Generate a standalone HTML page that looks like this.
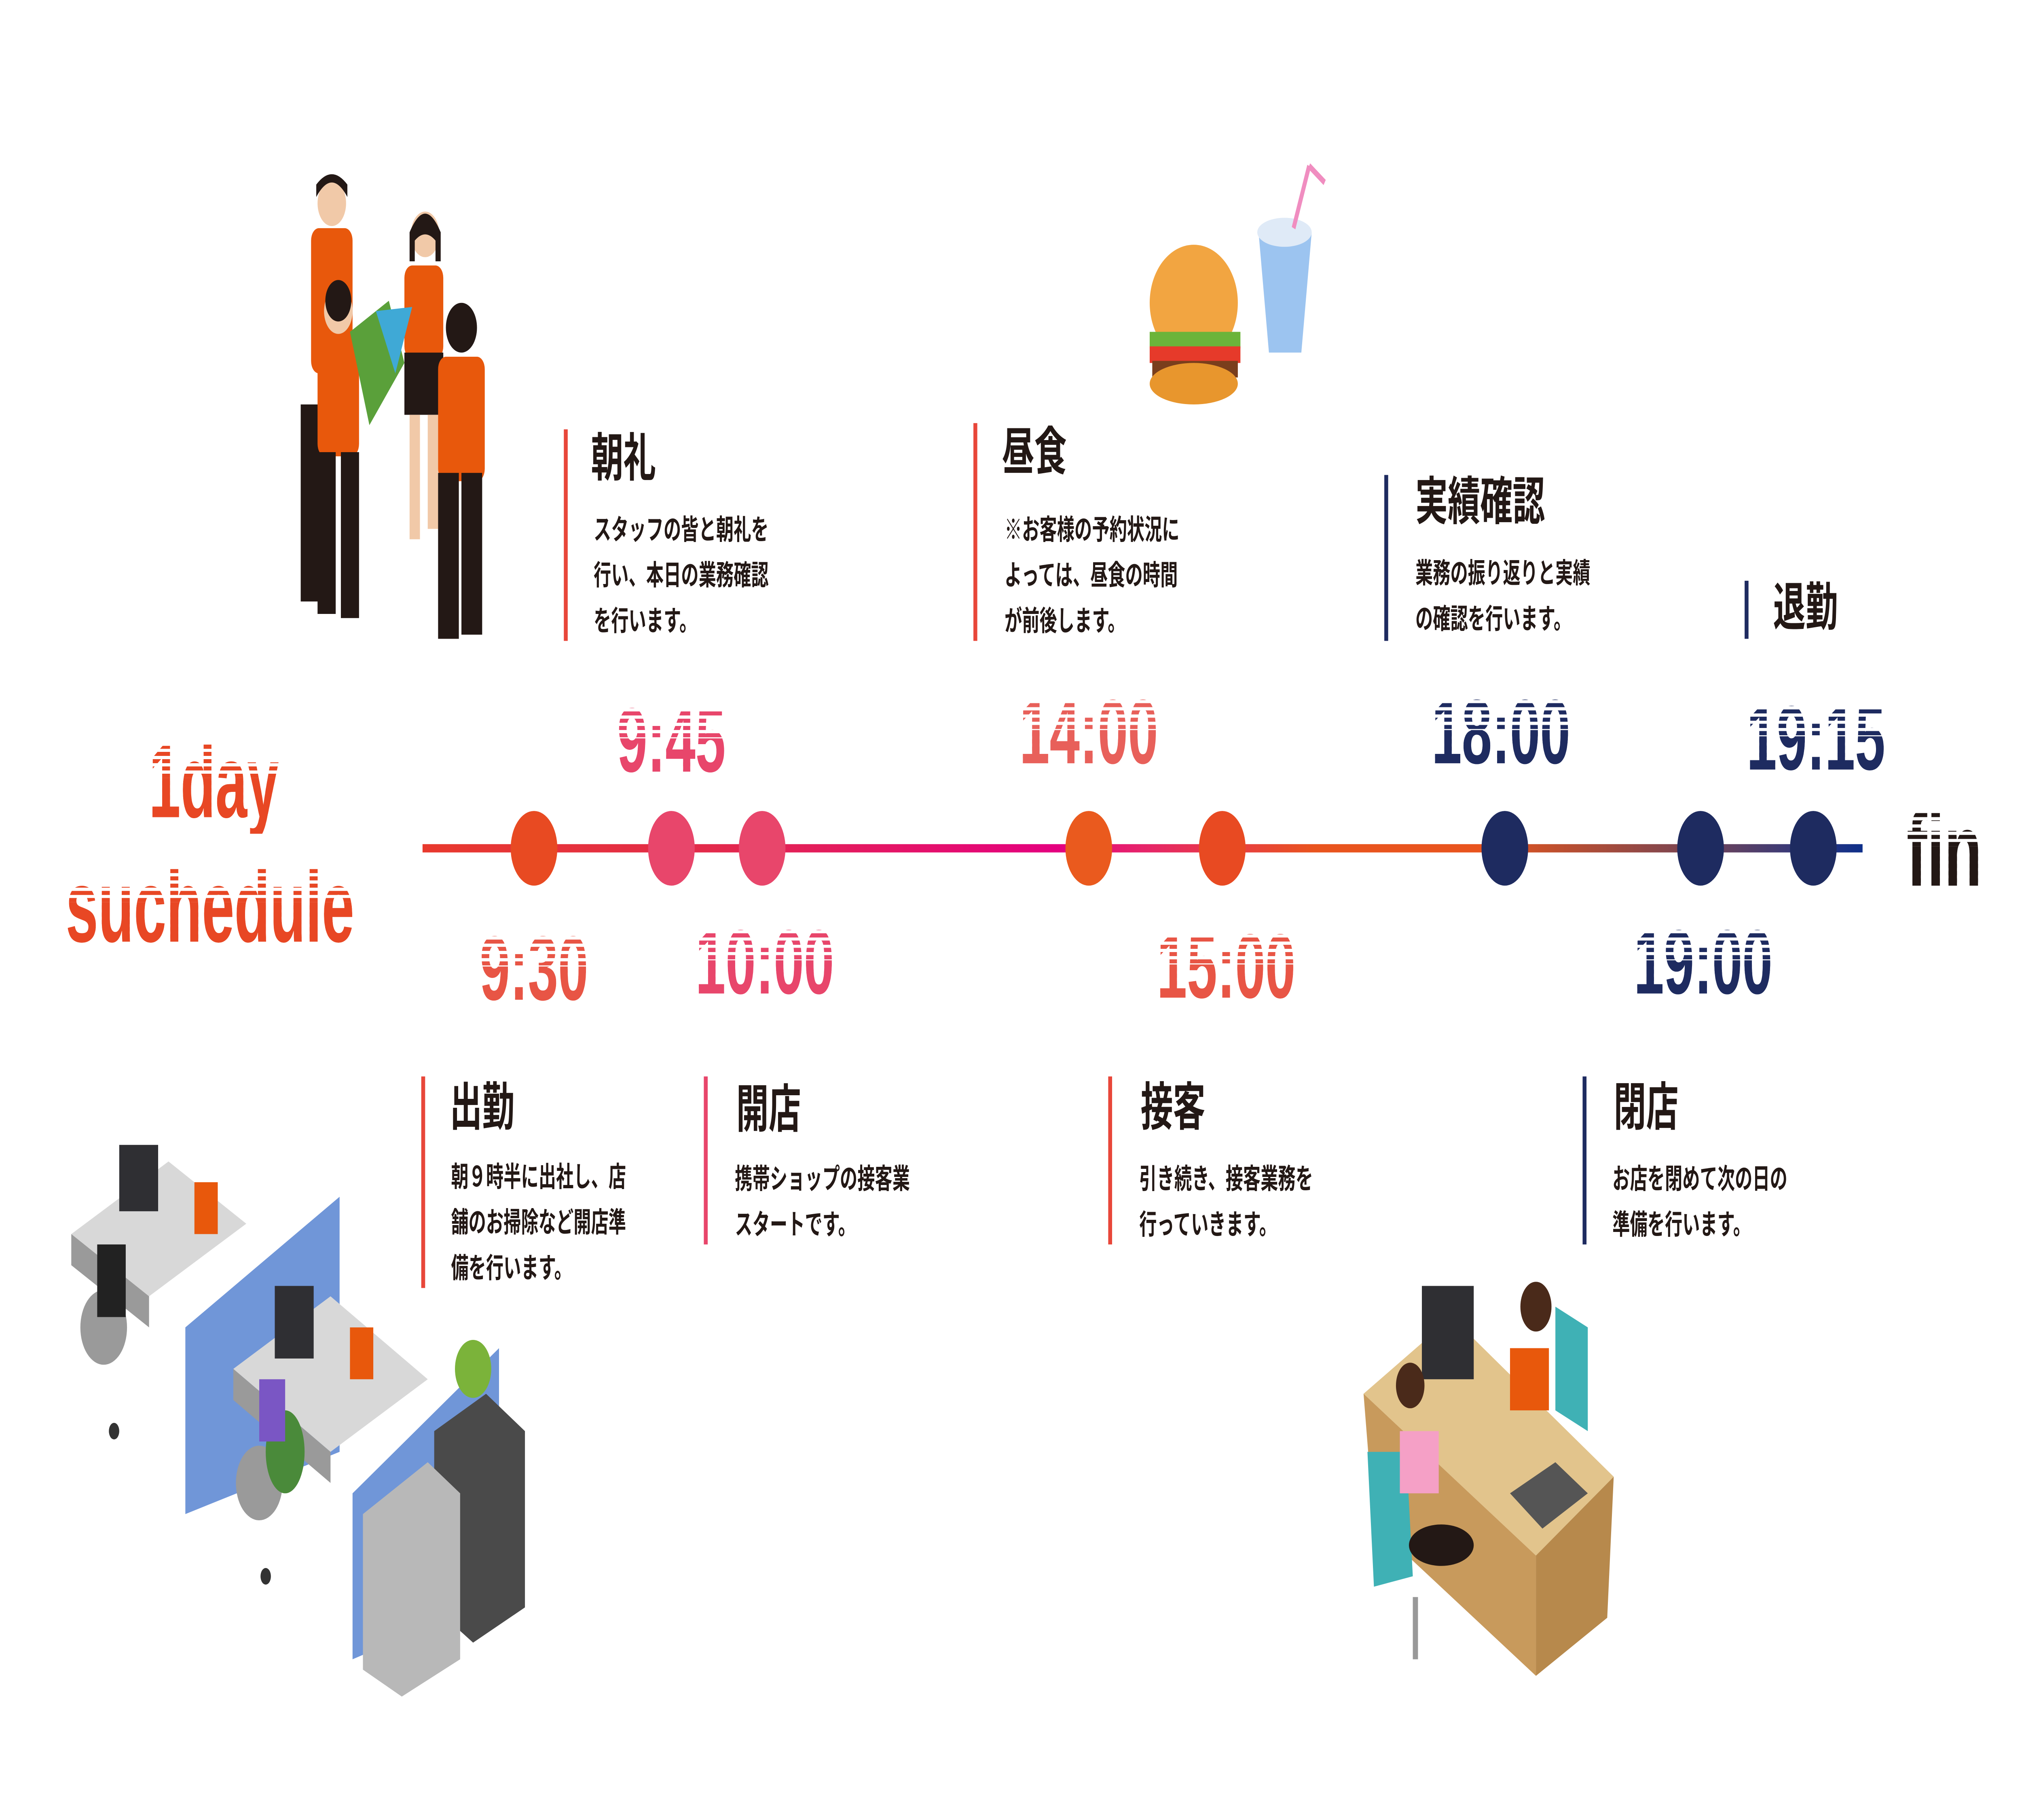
<!DOCTYPE html>
<html><head><meta charset="utf-8">
<style>
html,body{margin:0;padding:0;background:#fff;width:100%;height:100%;overflow:hidden;}
body{position:relative;}
#w{position:absolute;left:0;top:0;width:1560px;height:877.5px;transform:scale(5.128205,5.128205);transform-origin:0 0;overflow:hidden;font-family:"Liberation Sans","Noto Sans CJK JP",sans-serif;color:#231815;}
.a{position:absolute;}
.bar{position:absolute;width:3px;}
.t{position:absolute;font-size:25px;font-weight:bold;line-height:1;white-space:nowrap;transform:translateY(-50%);}
.b{position:absolute;font-size:13.5px;font-weight:bold;line-height:22px;white-space:nowrap;}
.tm{position:absolute;font-family:"Liberation Sans",sans-serif;font-weight:bold;font-size:44px;line-height:1;white-space:nowrap;transform:translate(-50%,-50%) scaleX(0.95);color:transparent;-webkit-background-clip:text;background-clip:text;}
.dot{position:absolute;width:36px;height:36px;border-radius:50%;transform:translate(-50%,-50%);}
</style></head><body><div id="w">

<div class="a" style="left:326px;top:407px;width:1111px;height:4px;background:linear-gradient(to right,#e8392d 0%,#e32a4b 20%,#e4007f 44%,#e6246a 50%,#e9541e 62%,#e9541e 74%,#c4502c 78%,#7a4552 88%,#3a3a78 95%,#0e2f8a 100%);"></div>
<div class="dot" style="left:412px;top:409px;background:#e84a22"></div>
<div class="dot" style="left:518px;top:409px;background:#e8466b"></div>
<div class="dot" style="left:588px;top:409px;background:#e8466b"></div>
<div class="dot" style="left:840px;top:409px;background:#ea5a1e"></div>
<div class="dot" style="left:943px;top:409px;background:#e84a22"></div>
<div class="dot" style="left:1161px;top:409px;background:#1e2b60"></div>
<div class="dot" style="left:1312px;top:409px;background:#1e2b60"></div>
<div class="dot" style="left:1399px;top:409px;background:#1e2b60"></div>

<div class="tm" style="left:518px;top:358px;background-image:linear-gradient(#e8466b,#e8466b),repeating-linear-gradient(#e8466b 0 2px,transparent 2px 3.5px);background-size:100% 55%,100% 100%;background-position:bottom,top;background-repeat:no-repeat,repeat;">9:45</div>
<div class="tm" style="left:840px;top:354px;background-image:linear-gradient(#e8605a,#e8605a),repeating-linear-gradient(#e8605a 0 2px,transparent 2px 3.5px);background-size:100% 55%,100% 100%;background-position:bottom,top;background-repeat:no-repeat,repeat;">14:00</div>
<div class="tm" style="left:1158px;top:354px;background-image:linear-gradient(#1e2b60,#1e2b60),repeating-linear-gradient(#1e2b60 0 2px,transparent 2px 3.5px);background-size:100% 55%,100% 100%;background-position:bottom,top;background-repeat:no-repeat,repeat;">18:00</div>
<div class="tm" style="left:1401px;top:357px;background-image:linear-gradient(#1e2b60,#1e2b60),repeating-linear-gradient(#1e2b60 0 2px,transparent 2px 3.5px);background-size:100% 55%,100% 100%;background-position:bottom,top;background-repeat:no-repeat,repeat;">19:15</div>
<div class="tm" style="left:412px;top:468px;background-image:linear-gradient(#e85545,#e85545),repeating-linear-gradient(#e85545 0 2px,transparent 2px 3.5px);background-size:100% 55%,100% 100%;background-position:bottom,top;background-repeat:no-repeat,repeat;">9:30</div>
<div class="tm" style="left:590px;top:465px;background-image:linear-gradient(#e8466b,#e8466b),repeating-linear-gradient(#e8466b 0 2px,transparent 2px 3.5px);background-size:100% 55%,100% 100%;background-position:bottom,top;background-repeat:no-repeat,repeat;">10:00</div>
<div class="tm" style="left:946px;top:467px;background-image:linear-gradient(#e85545,#e85545),repeating-linear-gradient(#e85545 0 2px,transparent 2px 3.5px);background-size:100% 55%,100% 100%;background-position:bottom,top;background-repeat:no-repeat,repeat;">15:00</div>
<div class="tm" style="left:1314px;top:465px;background-image:linear-gradient(#1e2b60,#1e2b60),repeating-linear-gradient(#1e2b60 0 2px,transparent 2px 3.5px);background-size:100% 55%,100% 100%;background-position:bottom,top;background-repeat:no-repeat,repeat;">19:00</div>
<div class="tm" style="left:165px;top:377px;font-size:50px;transform:translate(-50%,-50%) scaleX(0.88);background-image:linear-gradient(#e84724,#e84724),repeating-linear-gradient(#e84724 0 2px,transparent 2px 3.5px);background-size:100% 55%,100% 100%;background-position:bottom,top;background-repeat:no-repeat,repeat;">1day</div>
<div class="tm" style="left:162px;top:437px;font-size:50px;transform:translate(-50%,-50%) scaleX(0.9);background-image:linear-gradient(#e84724,#e84724),repeating-linear-gradient(#e84724 0 2px,transparent 2px 3.5px);background-size:100% 55%,100% 100%;background-position:bottom,top;background-repeat:no-repeat,repeat;">suchedule</div>
<div class="tm" style="left:1500px;top:410px;font-size:50px;background-image:linear-gradient(#231815,#231815),repeating-linear-gradient(#231815 0 2px,transparent 2px 3.5px);background-size:100% 55%,100% 100%;background-position:bottom,top;background-repeat:no-repeat,repeat;">fin</div>

<div class="bar" style="left:435px;top:207px;height:102px;background:#e8473a"></div>
<div class="t" style="left:456px;top:222px">朝礼</div>
<div class="b" style="left:458px;top:245px">スタッフの皆と朝礼を<br>行い、本日の業務確認<br>を行います。</div>

<div class="bar" style="left:751px;top:204px;height:105px;background:#e8473a"></div>
<div class="t" style="left:773px;top:219px">昼食</div>
<div class="b" style="left:775px;top:245px">※お客様の予約状況に<br>よっては、昼食の時間<br>が前後します。</div>

<div class="bar" style="left:1068px;top:229px;height:80px;background:#1e2b60"></div>
<div class="t" style="left:1092px;top:243px">実績確認</div>
<div class="b" style="left:1092px;top:266px">業務の振り返りと実績<br>の確認を行います。</div>

<div class="bar" style="left:1346px;top:280px;height:28px;background:#1e2b60"></div>
<div class="t" style="left:1368px;top:294px">退勤</div>

<div class="bar" style="left:325px;top:519px;height:102px;background:#e8473a"></div>
<div class="t" style="left:347px;top:535px">出勤</div>
<div class="b" style="left:348px;top:557px">朝９時半に出社し、店<br>舗のお掃除など開店準<br>備を行います。</div>

<div class="bar" style="left:543px;top:519px;height:81px;background:#e8466b"></div>
<div class="t" style="left:568px;top:536px">開店</div>
<div class="b" style="left:567px;top:558px">携帯ショップの接客業<br>スタートです。</div>

<div class="bar" style="left:855px;top:519px;height:81px;background:#e8473a"></div>
<div class="t" style="left:880px;top:535px">接客</div>
<div class="b" style="left:879px;top:558px">引き続き、接客業務を<br>行っていきます。</div>

<div class="bar" style="left:1221px;top:519px;height:81px;background:#1e2b60"></div>
<div class="t" style="left:1245px;top:535px">閉店</div>
<div class="b" style="left:1244px;top:558px">お店を閉めて次の日の<br>準備を行います。</div>

<svg class="a" style="left:0;top:0" width="1560" height="877" viewBox="0 0 1560 877">
 <g>
  <rect x="232" y="195" width="25" height="95" fill="#231815"/>
  <rect x="240" y="110" width="32" height="70" rx="6" fill="#e8580c"/>
  <circle cx="256" cy="98" r="11" fill="#f1c9a8"/><path d="M244 95 q12 -14 24 0 v-6 q-12 -10 -24 0z" fill="#231815"/>
  <rect x="312" y="128" width="30" height="45" rx="6" fill="#e8580c"/>
  <rect x="312" y="170" width="30" height="30" fill="#231815"/>
  <rect x="316" y="200" width="8" height="60" fill="#f1c9a8"/><rect x="330" y="200" width="8" height="55" fill="#f1c9a8"/>
  <circle cx="328" cy="113" r="11" fill="#f1c9a8"/><path d="M316 112 q12 -18 24 0 v14 h-4 v-10 q-8 -6 -16 0 v10 h-4z" fill="#231815"/>
  <rect x="245" y="160" width="32" height="60" rx="6" fill="#e8580c"/>
  <rect x="245" y="218" width="14" height="78" fill="#231815"/><rect x="263" y="218" width="14" height="80" fill="#231815"/>
  <circle cx="261" cy="150" r="11" fill="#f1c9a8"/><circle cx="261" cy="145" r="10" fill="#231815"/>
  <polygon points="270,160 300,145 312,175 285,205" fill="#5aa03a"/><polygon points="290,150 318,148 305,180" fill="#3fa9d6"/>
  <rect x="338" y="172" width="36" height="60" rx="6" fill="#e8580c"/>
  <rect x="338" y="228" width="16" height="80" fill="#231815"/><rect x="356" y="228" width="16" height="78" fill="#231815"/>
  <circle cx="356" cy="158" r="12" fill="#231815"/>
 </g>
 <g>
  <ellipse cx="921" cy="146" rx="34" ry="28" fill="#f2a541"/>
  <rect x="887" y="160" width="70" height="8" fill="#6bb43a"/>
  <rect x="887" y="167" width="70" height="8" fill="#e63a2a"/>
  <rect x="889" y="174" width="66" height="8" fill="#7a3e1c"/>
  <ellipse cx="921" cy="185" rx="34" ry="10" fill="#e8962d"/>
  <polygon points="971,112 1012,112 1004,170 979,170" fill="#9cc4f0"/>
  <ellipse cx="991" cy="112" rx="21" ry="7" fill="#dfeaf7"/>
  <line x1="998" y1="110" x2="1010" y2="80" stroke="#f08dc0" stroke-width="3"/><line x1="1010" y1="80" x2="1022" y2="88" stroke="#f08dc0" stroke-width="3"/>
 </g>
 <g>
  <polygon points="55,595 130,560 190,590 115,625" fill="#d8d8d8"/>
  <polygon points="55,595 115,625 115,640 55,610" fill="#9a9a9a"/>
  <rect x="92" y="552" width="30" height="32" fill="#2f2f33"/>
  <polygon points="143,640 262,577 262,700 143,730" fill="#7096d8"/>
  <polygon points="180,660 255,625 330,665 255,700" fill="#d8d8d8"/>
  <polygon points="180,660 255,700 255,715 180,675" fill="#9a9a9a"/>
  <rect x="212" y="620" width="30" height="35" fill="#2f2f33"/>
  <polygon points="272,720 385,650 385,770 272,800" fill="#7096d8"/>
  <polygon points="335,690 375,672 405,690 405,775 365,792 335,775" fill="#4a4a4a"/>
  <polygon points="280,730 330,705 355,720 355,800 310,818 280,805" fill="#b8b8b8"/>
  <circle cx="365" cy="660" r="14" fill="#7bb33a"/>
  <circle cx="80" cy="640" r="18" fill="#9a9a9a"/><circle cx="88" cy="690" r="4" fill="#333"/>
  <circle cx="200" cy="715" r="18" fill="#9a9a9a"/><circle cx="205" cy="760" r="4" fill="#333"/>
  <ellipse cx="220" cy="700" rx="15" ry="20" fill="#4a8a3a"/><rect x="200" y="665" width="20" height="30" fill="#7a56c4"/>
  <rect x="75" y="600" width="22" height="35" fill="#222"/>
  <rect x="150" y="570" width="18" height="25" fill="#e8580c"/><rect x="270" y="640" width="18" height="25" fill="#e8580c"/>
 </g>
 <g>
  <polygon points="1052,672 1120,635 1245,712 1185,750" fill="#e2c48c"/>
  <polygon points="1185,750 1245,712 1240,780 1185,808" fill="#b7894c"/>
  <polygon points="1052,672 1185,750 1185,808 1120,770 1060,735" fill="#c89a5c"/>
  <rect x="1097" y="620" width="40" height="45" fill="#2f2f33"/>
  <polygon points="1200,630 1225,640 1225,690 1200,680" fill="#3fb1b5"/>
  <rect x="1165" y="650" width="30" height="30" fill="#e8580c"/>
  <circle cx="1185" cy="630" r="12" fill="#4a2a1a"/>
  <polygon points="1055,700 1085,700 1090,760 1060,765" fill="#3fb1b5"/>
  <rect x="1080" y="690" width="30" height="30" fill="#f5a0c6"/>
  <ellipse cx="1112" cy="745" rx="25" ry="10" fill="#231815"/>
  <circle cx="1088" cy="668" r="11" fill="#4a2a1a"/>
  <polygon points="1165,720 1200,705 1225,720 1190,737" fill="#555"/>
  <line x1="1092" y1="770" x2="1092" y2="800" stroke="#999" stroke-width="4"/>
 </g>
</svg>
</div>
<script>
(function(){
  var w=document.getElementById('w');
  function fit(){
    var vw=document.documentElement.clientWidth||window.innerWidth||8000;
    var vh=document.documentElement.clientHeight||window.innerHeight||4500;
    w.style.transform='scale('+(vw/1560)+','+(vh/877.5)+')';
  }
  fit();
  window.addEventListener('resize',fit);
})();
</script>
</body></html>
